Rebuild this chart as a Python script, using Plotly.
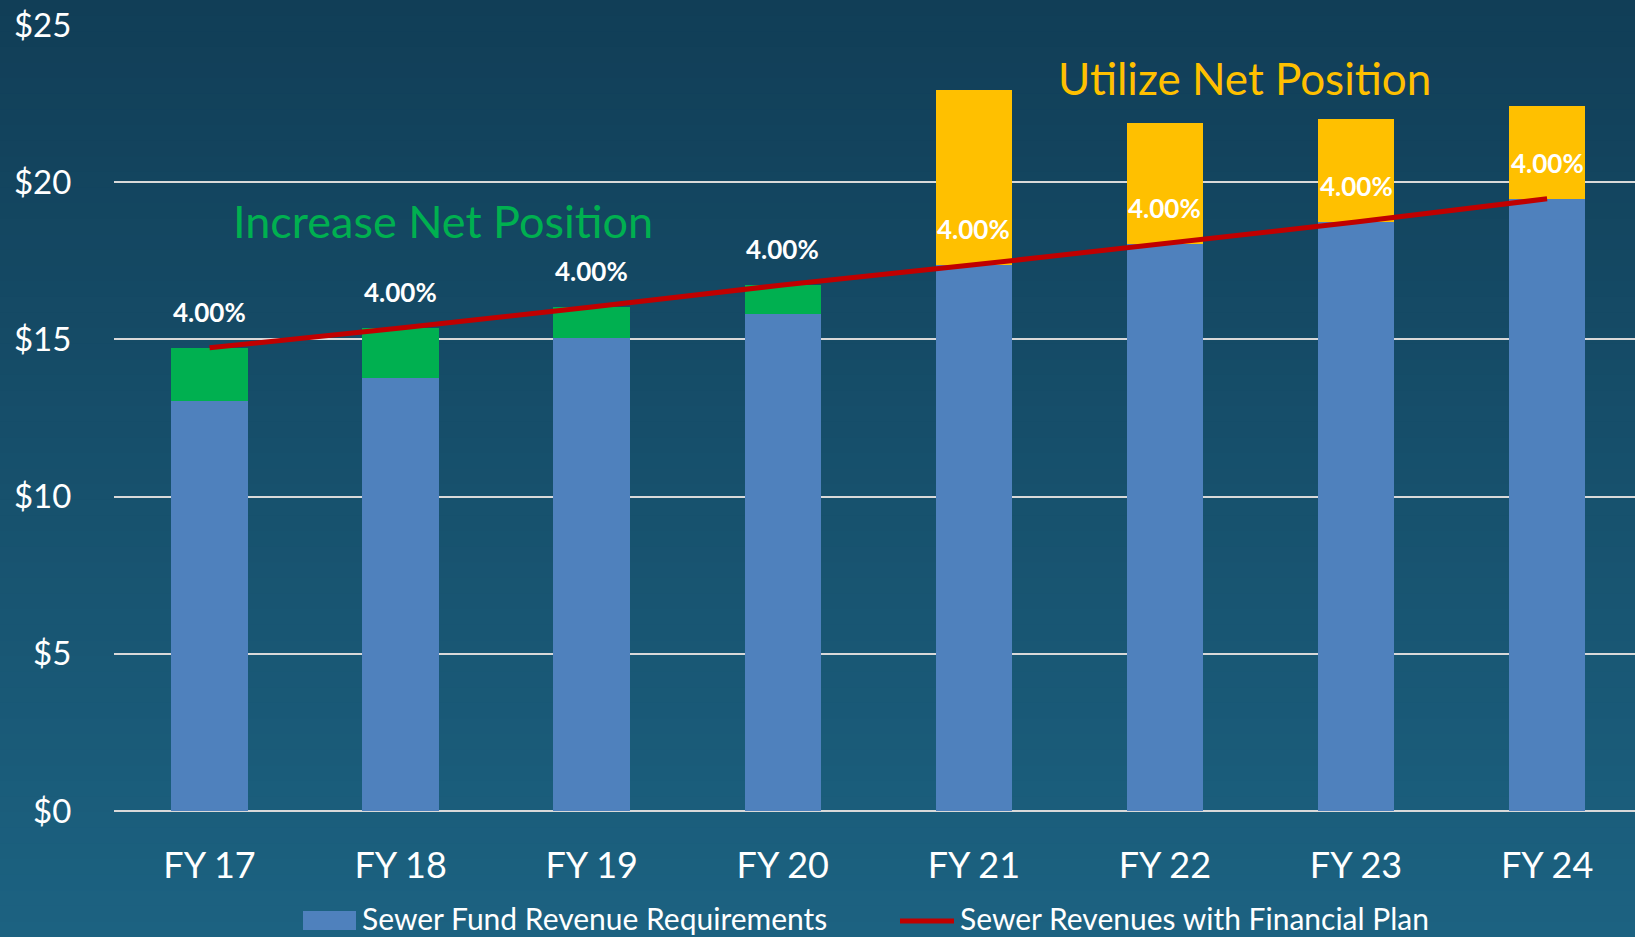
import plotly.graph_objects as go

categories = ["FY 17", "FY 18", "FY 19", "FY 20", "FY 21", "FY 22", "FY 23", "FY 24"]
requirements = [13.04, 13.78, 15.05, 15.82, 17.37, 18.04, 18.73, 19.47]
increase_net = [1.69, 1.58, 0.98, 0.91, 0, 0, 0, 0]
utilize_net = [0, 0, 0, 0, 5.56, 3.84, 3.28, 2.95]
revenues_plan = [14.73, 15.36, 16.03, 16.73, 17.37, 18.04, 18.73, 19.47]
rate_labels = ["4.00%"] * 8
y_ticks = [0, 5, 10, 15, 20, 25]
y_tick_labels = ["$0", "$5", "$10", "$15", "$20", "$25"]

FONT = "Lato, 'Open Sans', sans-serif"

fig = go.Figure()
fig.add_trace(go.Bar(x=categories, y=requirements, marker=dict(color="#4F81BD", line=dict(width=0)),
                     width=0.4, name="Sewer Fund Revenue Requirements", showlegend=False))
fig.add_trace(go.Bar(x=categories, y=increase_net, marker=dict(color="#00B050", line=dict(width=0)),
                     width=0.4, name="Increase Net Position", showlegend=False))
fig.add_trace(go.Bar(x=categories, y=utilize_net, marker=dict(color="#FFC000", line=dict(width=0)),
                     width=0.4, name="Utilize Net Position", showlegend=False))
fig.add_trace(go.Scatter(x=categories, y=revenues_plan, mode="lines",
                         line=dict(color="#C00000", width=5),
                         name="Sewer Revenues with Financial Plan", showlegend=False))

# plot area geometry (px)
PL, PT, PB = 114, 24, 126
PW = 1635 - PL
PH = 937 - PT - PB

# gradient background strips
shapes = []
n = 60
top = (17, 62, 87)
bot = (28, 98, 129)
y_lo = -PB / PH
y_hi = (PH + PT) / PH
for i in range(n):
    t = i / (n - 1)
    c = tuple(int(round(bot[k] + (top[k] - bot[k]) * t)) for k in range(3))
    y0 = y_lo + (y_hi - y_lo) * i / n
    y1 = y_lo + (y_hi - y_lo) * (i + 1) / n + 0.002
    shapes.append(dict(type="rect", xref="paper", yref="paper", x0=-PL / PW, x1=1.0, y0=y0, y1=y1,
                       fillcolor="rgb(%d,%d,%d)" % c, line=dict(width=0), layer="below"))

def px_x(p):
    return (p - PL) / PW

def px_y(p):
    return (937 - PB - p) / PH

# custom legend
shapes.append(dict(type="rect", xref="paper", yref="paper",
                   x0=px_x(303), x1=px_x(356), y0=px_y(930), y1=px_y(911),
                   fillcolor="#4F81BD", line=dict(width=0)))
shapes.append(dict(type="line", xref="paper", yref="paper",
                   x0=px_x(900), x1=px_x(954), y0=px_y(921), y1=px_y(921),
                   line=dict(color="#C00000", width=5)))

annotations = []
for cat, v, lab in zip(categories, revenues_plan, rate_labels):
    annotations.append(dict(x=cat, y=v, xref="x", yref="y", text=lab, showarrow=False,
                            yshift=36, font=dict(family=FONT, size=26, color="white", weight="bold")))
annotations.append(dict(x=1.224, y=18.77, xref="x", yref="y", text="Increase Net Position",
                        showarrow=False, font=dict(family=FONT, size=45, color="#00B050")))
annotations.append(dict(x=5.418, y=23.31, xref="x", yref="y", text="Utilize Net Position",
                        showarrow=False, font=dict(family=FONT, size=44, color="#FFC000")))
annotations.append(dict(x=px_x(361), y=px_y(936.5), xref="paper", yref="paper", xanchor="left",
                        yanchor="bottom", text="Sewer Fund Revenue Requirements", showarrow=False,
                        borderpad=0, font=dict(family=FONT, size=30, color="white")))
annotations.append(dict(x=px_x(959), y=px_y(936.5), xref="paper", yref="paper", xanchor="left",
                        yanchor="bottom", text="Sewer Revenues with Financial Plan", showarrow=False,
                        borderpad=0, font=dict(family=FONT, size=30, color="white")))

fig.update_layout(
    width=1635, height=937,
    margin=dict(l=PL, r=0, t=PT, b=PB, pad=0),
    paper_bgcolor="rgb(22,78,106)",
    plot_bgcolor="rgba(0,0,0,0)",
    barmode="stack",
    shapes=shapes,
    annotations=annotations,
    font=dict(family=FONT, color="white"),
    xaxis=dict(type="category", range=[-0.5, 7.46], showgrid=False, zeroline=False, showline=False,
               ticks="outside", ticklen=23, tickcolor="rgba(0,0,0,0)",
               tickfont=dict(family=FONT, size=36, color="white")),
    yaxis=dict(range=[0, 25.03], tickvals=y_ticks, ticktext=y_tick_labels, showgrid=True,
               gridcolor="#D9D9D9", gridwidth=2, zeroline=True, zerolinecolor="#D9D9D9",
               zerolinewidth=2, showline=False,
               ticks="outside", ticklen=35, tickcolor="rgba(0,0,0,0)",
               tickfont=dict(family=FONT, size=33, color="white")),
)

fig.write_html("out.html", config={"displayModeBar": False})

with open("out.html", "r", encoding="utf-8") as f:
    html = f.read()
html = html.replace("<head>", "<head><style>html,body{margin:0;padding:0;overflow:hidden;}</style>", 1)
with open("out.html", "w", encoding="utf-8") as f:
    f.write(html)
